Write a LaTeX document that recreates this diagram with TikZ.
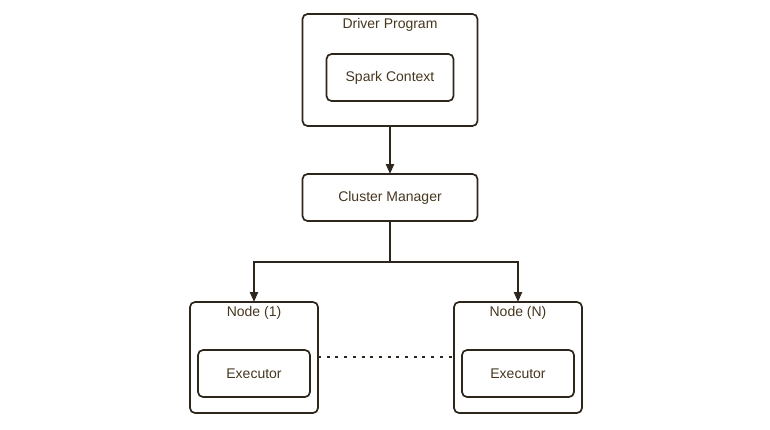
\documentclass[tikz,border=0pt]{standalone}
\usepackage{fontspec}
\setmainfont{Liberation Sans}
\usetikzlibrary{arrows.meta}
\definecolor{ln}{HTML}{2E261C}
\definecolor{tx}{HTML}{45361F}
\begin{document}
\begin{tikzpicture}[x=1pt,y=-1pt,
  box/.style={draw=ln,line width=1.7pt,rounded corners=5pt,inner sep=0pt,outer sep=0pt},
  lbl/.style={text=tx,font=\fontsize{14}{16}\selectfont,inner sep=0pt},
  arr/.style={draw=ln,line width=2.2pt,-{Triangle[length=10pt,width=8pt]}}]
\useasboundingbox (0,0) rectangle (770,429);
% Driver
\node[box,minimum width=175pt,minimum height=112pt] (drv) at (390,70) {};
\node[lbl] (drvt) at (390,25) {Driver Program};
\node[box,minimum width=127pt,minimum height=47pt,lbl] (spark) at (390,77.5) {Spark Context};
% Cluster manager
\node[box,minimum width=175pt,minimum height=47pt,lbl] (cm) at (390,197.5) {Cluster Manager};
% Worker nodes
\node[box,minimum width=128pt,minimum height=111pt] (n1) at (254,357.5) {};
\node[lbl] (n1t) at (254,313) {Node (1)};
\node[box,minimum width=112pt,minimum height=47pt,lbl] (e1) at (254,373.5) {Executor};
\node[box,minimum width=128pt,minimum height=111pt] (nN) at (518,357.5) {};
\node[lbl] (nNt) at (518,313) {Node (N)};
\node[box,minimum width=112pt,minimum height=47pt,lbl] (eN) at (518,373.5) {Executor};
% connectors
\draw[arr] (drv.south) -- (cm.north);
\coordinate (sp) at (390,262);
\draw[draw=ln,line width=2.2pt] (cm.south) -- (sp);
\draw[arr] (sp) -| (n1.north);
\draw[arr] (sp) -| (nN.north);
\draw[draw=ln,line width=2pt,dash pattern=on 3pt off 5.7pt] (n1.east |- 0,357) -- (nN.west |- 0,357);
\end{tikzpicture}
\end{document}
